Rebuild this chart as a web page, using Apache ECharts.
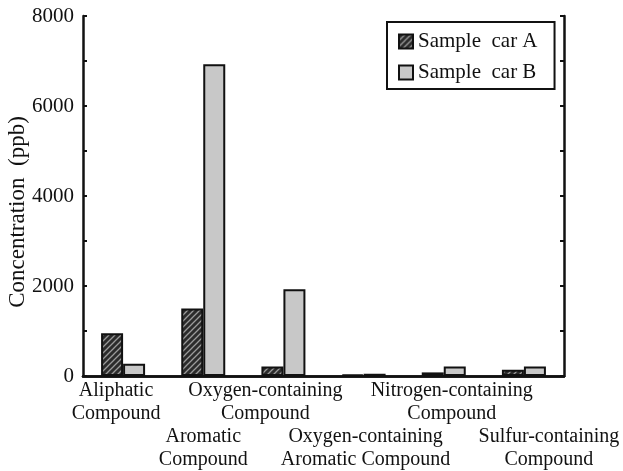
<!DOCTYPE html>
<html>
<head>
<meta charset="utf-8">
<script src="https://cdn.jsdelivr.net/npm/echarts@6/dist/echarts.min.js"></script>
<style>
html,body{margin:0;padding:0;background:#fff;}
#c{width:623px;height:471px;}
</style>
</head>
<body>
<div id="c"></div>
<script>
var categories = ['Aliphatic\nCompound', 'Aromatic\nCompound', 'Oxygen-containing\nCompound', 'Oxygen-containing\nAromatic Compound', 'Nitrogen-containing\nCompound', 'Sulfur-containing\nCompound'];
var seriesNames = ['Sample  car A', 'Sample  car B'];
var carA = [950, 1500, 210, 30, 80, 140];
var carB = [270, 6930, 1930, 50, 210, 210];
var yTicks = [0, 2000, 4000, 6000, 8000];
// horizontal nudge of each category label (style only)
var labelShift = [-7, 0, -18, 2, 8, 25];

function hatch() {
  var c = document.createElement('canvas');
  c.width = 6; c.height = 6;
  var g = c.getContext('2d');
  g.fillStyle = '#2b2b2b';
  g.fillRect(0, 0, 6, 6);
  g.strokeStyle = '#9a9a9a';
  g.lineWidth = 1.3;
  g.beginPath();
  g.moveTo(-1, 7); g.lineTo(7, -1);
  g.moveTo(-4, 4); g.lineTo(4, -4);
  g.moveTo(2, 10); g.lineTo(10, 2);
  g.stroke();
  return c;
}

var font = 'Liberation Serif';
var xData = categories.map(function (c, i) {
  var s = labelShift[i];
  return {value: c, textStyle: {padding: [0, s < 0 ? -2 * s : 0, 0, s > 0 ? 2 * s : 0]}};
});

var chart = echarts.init(document.getElementById('c'));
chart.setOption({
  animation: false,
  backgroundColor: '#fff',
  grid: {left: 83, right: 59, top: 16, bottom: 95, containLabel: false, outerBoundsMode: 'none'},
  legend: {
    orient: 'vertical', left: 387, top: 22,
    padding: [9, 17, 6, 11], itemGap: 10,
    itemWidth: 14, itemHeight: 14, itemTextGap: 8,
    borderColor: '#111', borderWidth: 2,
    icon: 'rect',
    textStyle: {fontFamily: font, fontSize: 21, color: '#111', lineHeight: 18},
    data: seriesNames
  },
  xAxis: [{
    type: 'category', data: xData, position: 'bottom',
    axisLine: {lineStyle: {color: '#111', width: 2.5}},
    axisTick: {inside: true, length: 3, lineStyle: {color: '#111', width: 2}},
    axisLabel: {
      interval: 0, fontFamily: font, fontSize: 20, color: '#111', lineHeight: 23, margin: 3,
      formatter: function (v, i) { return i % 2 === 1 ? '\n\n' + v : v; }
    }
  }, {
    type: 'category', data: categories, position: 'top',
    axisLine: {lineStyle: {color: '#111', width: 2.5}},
    axisTick: {inside: true, length: 3, lineStyle: {color: '#111', width: 2}},
    axisLabel: {show: false}
  }],
  yAxis: [{
    type: 'value', min: 0, max: 8000, interval: 1000, position: 'left',
    name: 'Concentration  (ppb)', nameLocation: 'middle', nameGap: 54, nameMoveOverlap: false,
    nameTextStyle: {fontFamily: font, fontSize: 23, color: '#111', padding: [0, 32, 0, 0]},
    axisLine: {show: true, lineStyle: {color: '#111', width: 2.5}},
    axisTick: {show: true, inside: true, length: 4, lineStyle: {color: '#111', width: 2}},
    splitLine: {show: false},
    axisLabel: {
      fontFamily: font, fontSize: 21, color: '#111', margin: 9,
      formatter: function (v) { return yTicks.indexOf(v) >= 0 ? String(v) : ''; }
    }
  }, {
    type: 'value', min: 0, max: 8000, interval: 1000, position: 'right',
    axisLine: {show: true, lineStyle: {color: '#111', width: 2.5}},
    axisTick: {show: true, inside: true, length: 4, lineStyle: {color: '#111', width: 2}},
    splitLine: {show: false},
    axisLabel: {show: false}
  }],
  series: [{
    name: seriesNames[0], type: 'bar', data: carA, barWidth: 22, barGap: '0%',
    itemStyle: {color: {image: hatch(), repeat: 'repeat'}, borderColor: '#111', borderWidth: 2}
  }, {
    name: seriesNames[1], type: 'bar', data: carB, barWidth: 22, barGap: '0%',
    itemStyle: {color: '#c8c8c8', borderColor: '#111', borderWidth: 2}
  }]
});
</script>
</body>
</html>
